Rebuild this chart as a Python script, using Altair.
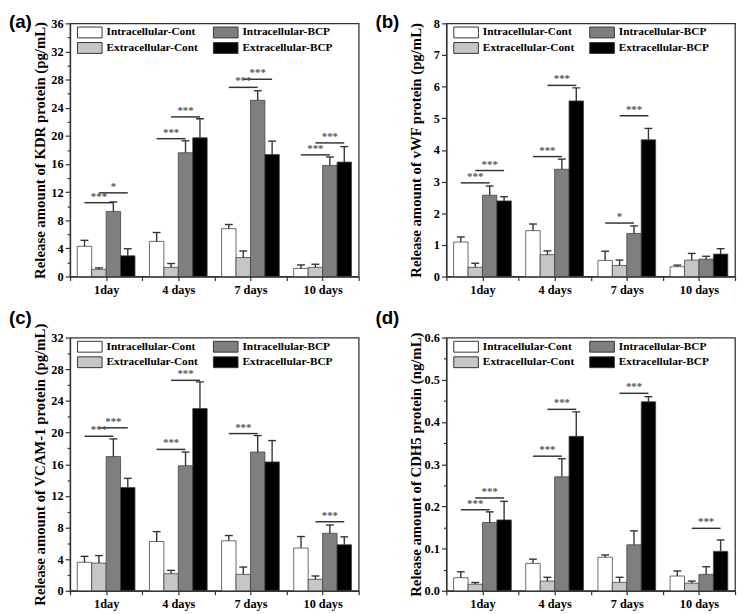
import json
import altair as alt
import pandas as pd

days = ["1day", "4 days", "7 days", "10 days"]
bar_series = ["Intracellular-Cont", "Extracellular-Cont", "Intracellular-BCP", "Extracellular-BCP"]
bar_colors = ["#ffffff", "#c6c6c6", "#7f7f7f", "#000000"]

# rows follow bar_series, columns follow days
kdr_mean = [[4.3, 5.0, 6.8, 1.15], [1.03, 1.3, 2.7, 1.3], [9.26, 17.6, 25.06, 15.8], [2.95, 19.73, 17.35, 16.27]]
kdr_err = [[0.85, 1.26, 0.6, 0.5], [0.2, 0.55, 0.93, 0.45], [1.35, 1.7, 1.36, 1.2], [1.0, 2.7, 1.9, 2.2]]
kdr_sig = [(0, 0, 2, 10.5, "***"), (0, 1, 3, 11.9, "*"), (1, 0, 2, 19.6, "***"), (1, 1, 3, 22.7, "***"),
           (2, 0, 2, 26.9, "***"), (2, 1, 3, 28.05, "***"), (3, 0, 2, 17.3, "***"), (3, 1, 3, 19.0, "***")]

vwf_mean = [[1.09, 1.45, 0.51, 0.31], [0.29, 0.69, 0.35, 0.52], [2.57, 3.39, 1.36, 0.55], [2.39, 5.55, 4.32, 0.71]]
vwf_err = [[0.16, 0.21, 0.29, 0.05], [0.13, 0.12, 0.17, 0.21], [0.29, 0.32, 0.24, 0.09], [0.13, 0.41, 0.36, 0.17]]
vwf_sig = [(0, 0, 2, 2.96, "***"), (0, 1, 3, 3.35, "***"), (1, 0, 2, 3.79, "***"), (1, 1, 3, 6.04, "***"),
           (2, 0, 2, 1.69, "*"), (2, 1, 3, 5.08, "***")]

vcam_mean = [[3.6, 6.23, 6.32, 5.4], [3.5, 2.16, 2.08, 1.45], [16.96, 15.8, 17.54, 7.27], [13.05, 23.03, 16.29, 5.82]]
vcam_err = [[0.75, 1.25, 0.66, 1.46], [0.95, 0.42, 0.92, 0.42], [2.24, 1.74, 2.08, 1.04], [1.16, 3.37, 2.7, 1.0]]
vcam_sig = [(0, 0, 2, 19.53, "***"), (0, 1, 3, 20.6, "***"), (1, 0, 2, 17.87, "***"), (1, 1, 3, 26.6, "***"),
            (2, 0, 2, 19.87, "***"), (3, 1, 3, 8.73, "***")]

cdh5_mean = [[0.031, 0.065, 0.0795, 0.035], [0.0156, 0.023, 0.02, 0.018], [0.162, 0.27, 0.109, 0.039], [0.168, 0.366, 0.448, 0.0935]]
cdh5_err = [[0.014, 0.01, 0.0055, 0.012], [0.004, 0.009, 0.012, 0.005], [0.025, 0.043, 0.033, 0.018], [0.044, 0.058, 0.012, 0.027]]
cdh5_sig = [(0, 0, 2, 0.192, "***"), (0, 1, 3, 0.22, "***"), (1, 0, 2, 0.319, "***"), (1, 1, 3, 0.43, "***"),
            (2, 1, 3, 0.468, "***"), (3, 1, 3, 0.148, "***")]

SERIF = "Liberation Serif"
W, H = 293, 257


def panel(tag, means, errs, sig, ymax, ystep, ytitle, fmt, tag_x, tag_y, tpad):
    rows = []
    for j, s in enumerate(bar_series):
        for i, d in enumerate(days):
            rows.append({"day_i": i, "slot": j, "series": s, "mean": means[j][i], "err": errs[j][i]})
    bdf = pd.DataFrame(rows)
    sdf = pd.DataFrame(sig, columns=["day_i", "a", "b", "level", "stars"])

    xscale = alt.Scale(domain=[-0.5, 3.5], nice=False, zero=False)
    yscale = alt.Scale(domain=[0, ymax], nice=False, zero=True)
    n = int(round(ymax / ystep * 2))
    yvals = [round(k * ystep / 2, 6) for k in range(n + 1)]
    major = f"abs(datum.value/{ystep} - round(datum.value/{ystep})) < 0.001"
    xvals = [k / 2 - 0.5 for k in range(9)]
    xlab = f"datum.value % 1 === 0 ? {json.dumps(days)}[datum.value] : ''"

    xaxis = alt.Axis(values=xvals, labelExpr=xlab, title=None, tickSize=4, labelOverlap=False,
                     labelFlush=False, labelPadding=3, grid=False)
    yaxis = alt.Axis(values=yvals, labelExpr=f"{major} ? datum.label : ''", format=fmt, title=ytitle,
                     tickSize={"condition": {"test": major, "value": 5}, "value": 3},
                     labelOverlap=False, labelPadding=2, grid=False, titlePadding=tpad)

    def X(field):
        return alt.X(field, scale=xscale, axis=xaxis)

    def Y(field):
        return alt.Y(field, scale=yscale, axis=yaxis)

    base = alt.Chart(bdf).transform_calculate(
        xc="datum.day_i + (datum.slot - 1.5) * 0.2",
        x0="datum.day_i + (datum.slot - 1.5) * 0.2 - 0.1",
        x1="datum.day_i + (datum.slot - 1.5) * 0.2 + 0.1",
        top="datum.mean + datum.err",
    )
    bars = base.mark_bar(stroke="#444", strokeWidth=0.8).encode(
        x=X("x0:Q"),
        x2="x1:Q",
        y=Y("mean:Q"),
        y2=alt.datum(0),
        color=alt.Color("series:N", scale=alt.Scale(domain=bar_series, range=bar_colors),
                        legend=alt.Legend(title=None, orient="none", legendX=14, legendY=3, columns=2,
                                          symbolType="M-2.27,-1H2.27V1H-2.27Z", symbolSize=121,
                                          symbolStrokeColor="#333", symbolStrokeWidth=1,
                                          symbolOpacity=1, labelOffset=11,
                                          labelFont=SERIF, labelFontWeight="bold", labelFontSize=11.5,
                                          labelColor="black", columnPadding=13, rowPadding=0)),
    )
    err = base.mark_rule(color="#333", strokeWidth=1.4).encode(
        x=X("xc:Q"), y=Y("mean:Q"), y2="top:Q")
    cap = base.mark_tick(orient="horizontal", size=8, thickness=1.4, color="#333", opacity=1).encode(
        x=X("xc:Q"), y=Y("top:Q"))

    sbase = alt.Chart(sdf).transform_calculate(
        xa="datum.day_i + (datum.a - 1.5) * 0.2",
        xb="datum.day_i + (datum.b - 1.5) * 0.2",
        xm="datum.day_i + ((datum.a + datum.b) / 2 - 1.5) * 0.2",
    )
    brk = sbase.mark_rule(color="#333", strokeWidth=1.5).encode(
        x=X("xa:Q"), x2="xb:Q", y=Y("level:Q"))
    stars = sbase.mark_text(baseline="bottom", dy=-1, font=SERIF, fontWeight="bold", fontSize=11,
                            color="#555").encode(
        x=X("xm:Q"), y=Y("level:Q"), text="stars:N")

    lab = alt.Chart(pd.DataFrame({"tag": [tag]})).mark_text(
        align="left", baseline="top", font="Liberation Sans", fontWeight="bold", fontSize=19,
        color="black").encode(text="tag:N", x=alt.value(tag_x), y=alt.value(tag_y))

    return alt.layer(bars, err, cap, brk, stars, lab).properties(width=W, height=H)


pa = panel("(a)", kdr_mean, kdr_err, kdr_sig, 36, 4, "Release amount of KDR protein (pg/mL)", "d", -62, -10, 3)
pb = panel("(b)", vwf_mean, vwf_err, vwf_sig, 8, 1, "Release amount of vWF protein (pg/mL)", "d", -72, -10, 10)
pc = panel("(c)", vcam_mean, vcam_err, vcam_sig, 32, 4, "Release amount of VCAM-1 protein (pg/mL)", "d", -62, -29, 3)
pd_ = panel("(d)", cdh5_mean, cdh5_err, cdh5_sig, 0.6, 0.1, "Release amount of CDH5 protein (ng/mL)", ".1f", -72, -29, 1)

chart = alt.concat(pa, pb, pc, pd_, columns=2, spacing={"row": 11, "column": 14}, align="each").resolve_scale(
    color="independent").resolve_legend(color="independent").properties(padding=0).configure_view(
    stroke="#333", strokeWidth=1.3).configure_axis(
    labelFont=SERIF, labelFontWeight="bold", labelFontSize=12.5, labelColor="black",
    titleFont=SERIF, titleFontWeight="bold", titleFontSize=15, titleColor="black",
    domainColor="#333", domainWidth=1.3, tickColor="#333", tickWidth=1.2)

chart.save("out.html", embed_options={"renderer": "svg", "actions": False})
